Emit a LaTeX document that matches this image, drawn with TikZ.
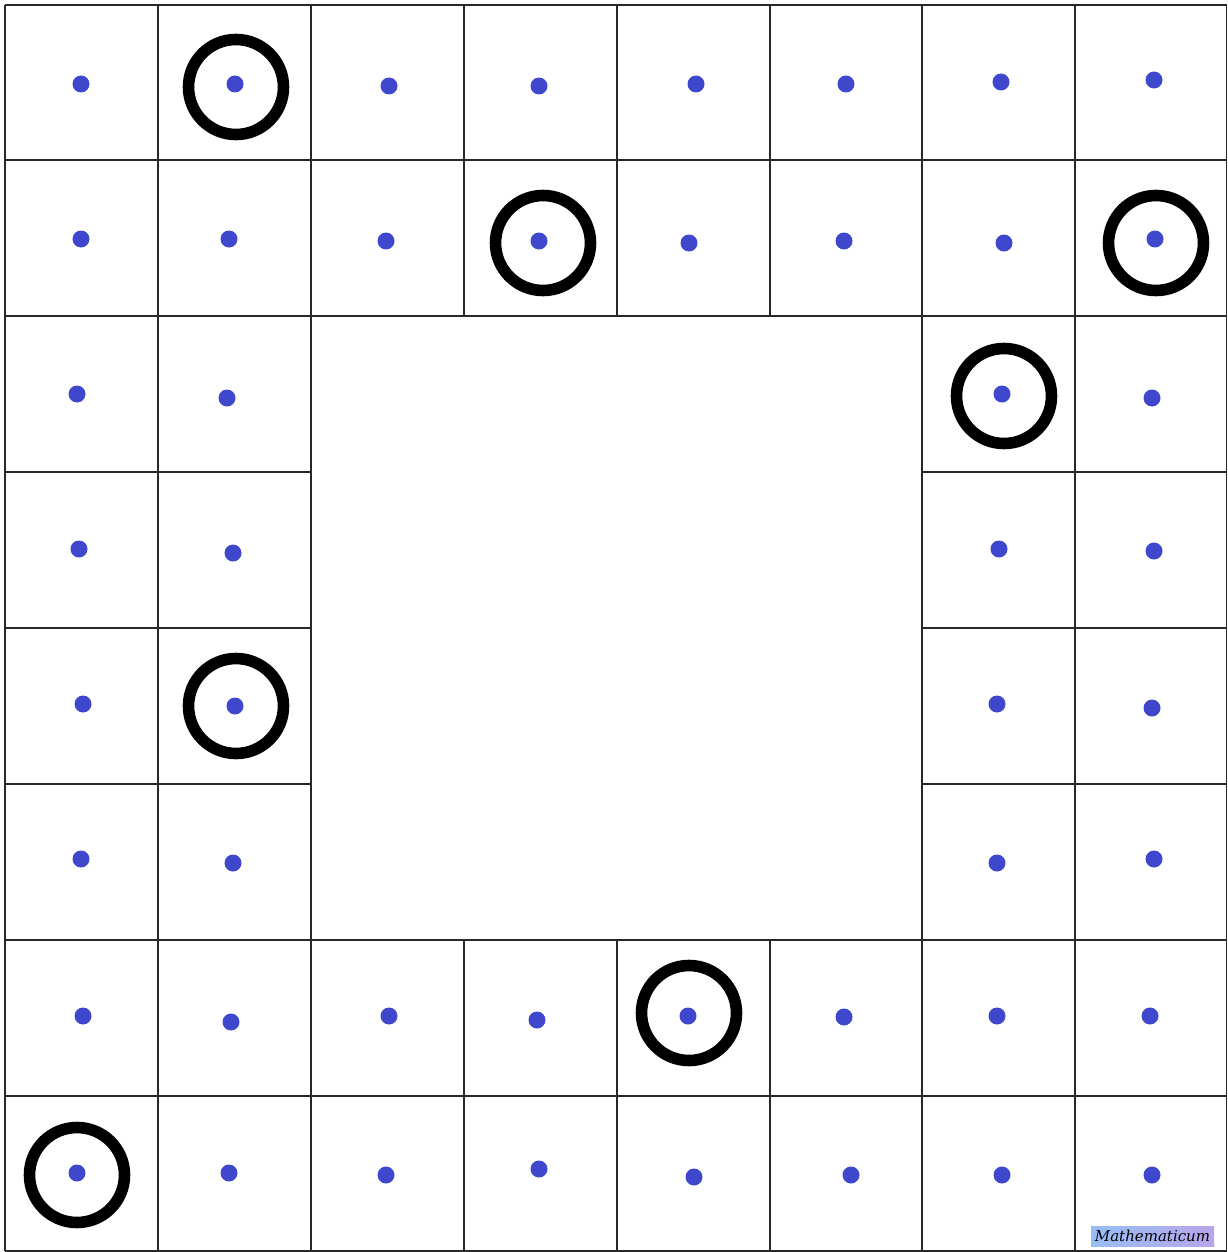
\documentclass[tikz,border=0pt]{standalone}
\usepackage{fontspec}
\newfontfamily\logofont{DejaVu Serif}
\definecolor{dotblue}{RGB}{63,72,204}
\definecolor{gridgray}{RGB}{40,40,40}
\definecolor{logoA}{RGB}{150,190,245}
\definecolor{logoB}{RGB}{185,165,235}
\begin{document}
\begin{tikzpicture}[x=0.5pt,y=-0.5pt,
  gridline/.style={draw=gridgray,line width=0.6pt},
  dot/.style={circle,fill=dotblue,inner sep=0pt,minimum size=8.5pt},
  ring/.style={circle,draw=black,line width=5.8pt,inner sep=0pt,minimum size=47.5pt},
  logobox/.style={left color=logoA,right color=logoB,inner sep=0pt,minimum width=61.5pt,minimum height=10pt,font=\logofont\itshape\fontsize{7.5pt}{7.5pt}\selectfont}]
\useasboundingbox (0,0) rectangle (1227,1252);
\fill[white] (0,0) rectangle (1227,1252);
% full horizontal lines
\foreach \y in {5,160,316,940,1096,1251}
  \draw[gridline] (5,\y) -- (1226.5,\y);
% partial horizontal lines
\foreach \y in {472,628,784}{
  \draw[gridline] (5,\y) -- (311,\y);
  \draw[gridline] (922,\y) -- (1226.5,\y);}
% full vertical lines
\foreach \x in {5,158,311,922,1075,1226.5}
  \draw[gridline] (\x,5) -- (\x,1251);
% partial vertical lines
\foreach \x in {464,617,770}{
  \draw[gridline] (\x,5) -- (\x,316);
  \draw[gridline] (\x,940) -- (\x,1251);}
% dots
\foreach \px/\py [count=\k] in {
  81/84,235/84,389/86,539/86,696/84,846/84,1001/82,1154/80,
  81/239,229/239,386/241,539/241,689/243,844/241,1004/243,1155/239,
  77/394,227/398,1002/394,1152/398,
  79/549,233/553,999/549,1154/551,
  83/704,235/706,997/704,1152/708,
  81/859,233/863,997/863,1154/859,
  83/1016,231/1022,389/1016,537/1020,688/1016,844/1017,997/1016,1150/1016,
  77/1173,229/1173,386/1175,539/1169,694/1177,851/1175,1002/1175,1152/1175}
  \node[dot] (d\k) at (\px,\py) {};
% rings
\foreach \px/\py [count=\k] in {236/87,543/243,1156/243,1004/396,236/706,689/1013,77/1175}
  \node[ring] (r\k) at (\px,\py) {};
% logo
\node[logobox] (logo) at (1152.5,1236) {Mathematicum};
\end{tikzpicture}
\end{document}
